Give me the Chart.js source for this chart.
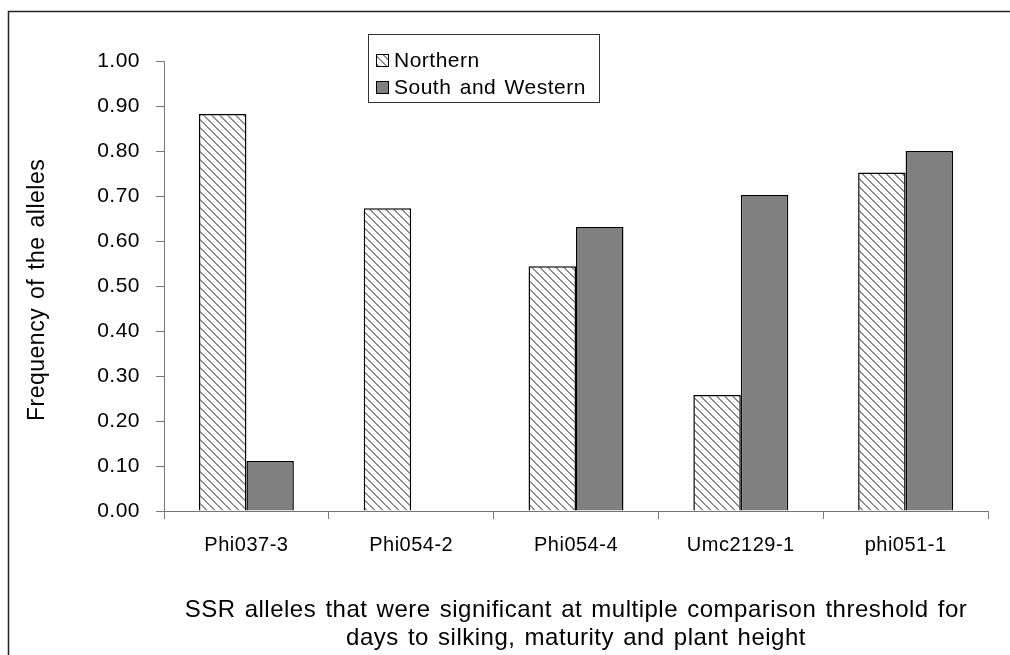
<!DOCTYPE html>
<html>
<head>
<meta charset="utf-8">
<script src="https://cdn.jsdelivr.net/npm/chart.js@4/dist/chart.umd.min.js"></script>
<style>
  html, body { margin: 0; padding: 0; background: #fff; }
  #wrap { width: 1010px; height: 655px; position: relative; }
</style>
</head>
<body>
<div id="wrap"><canvas id="alleleChart" width="1010" height="655"></canvas></div>
<script>
// data
const alleles = ['Phi037-3', 'Phi054-2', 'Phi054-4', 'Umc2129-1', 'phi051-1'];
const northern = [0.882, 0.673, 0.544, 0.258, 0.752];
const southWestern = [0.111, null, 0.631, 0.702, 0.800];
const yTicks = [0, 0.1, 0.2, 0.3, 0.4, 0.5, 0.6, 0.7, 0.8, 0.9, 1.0];

const FONT = '"Liberation Sans", Arial, sans-serif';

// diagonal hatch like the old excel fill
function makeHatch() {
    const c = document.createElement('canvas');
    c.width = 8; c.height = 8;
    const g = c.getContext('2d');
    g.fillStyle = '#fff';
    g.fillRect(0, 0, 8, 8);
    g.fillStyle = '#8a8a8a';
    for (let y = 0; y < 8; y++) {
        for (let x = 0; x < 8; x++) {
            const d = ((x - y) % 8 + 8) % 8;
            if (d === 0 || d === 1) g.fillRect(x, y, 1, 1);
        }
    }
    return g.createPattern(c, 'repeat');
}

const ctx = document.getElementById('alleleChart').getContext('2d');
const hatch = makeHatch();

// frame, y title (clipped like the original), legend box
const decorations = {
    id: 'decorations',
    beforeDraw(chart) {
        const c = chart.ctx;
        // excel-ish loose text
        c.letterSpacing = '0.5px';
        c.wordSpacing = '2px';
        c.save();
        c.fillStyle = '#fff';
        c.fillRect(0, 0, chart.width, chart.height);
        c.strokeStyle = '#222';
        c.lineWidth = 1.5;
        c.beginPath();
        c.moveTo(8.5, chart.height);
        c.lineTo(8.5, 11.5);
        c.lineTo(chart.width, 11.5);
        c.stroke();
        c.restore();
    },
    afterDraw(chart) {
        const c = chart.ctx;
        // y axis title
        c.save();
        c.beginPath();
        c.rect(0, 152, 120, 300);
        c.clip();
        c.translate(38, 421);
        c.rotate(-Math.PI / 2);
        c.font = '23px ' + FONT;
        c.fillStyle = '#000';
        c.textAlign = 'left';
        c.textBaseline = 'middle';
        c.fillText('Frequency of the alleles', 0, 0);
        c.restore();

        // legend
        const lx = 368, ly = 34, lw = 231, lh = 68;
        c.save();
        c.fillStyle = '#fff';
        c.fillRect(lx, ly, lw, lh);
        c.strokeStyle = '#333';
        c.lineWidth = 1;
        c.strokeRect(lx + 0.5, ly + 0.5, lw, lh);
        c.font = '21px ' + FONT;
        c.textBaseline = 'middle';
        chart.data.datasets.forEach((ds, i) => {
            const cy = ly + 26 + i * 27;
            c.fillStyle = ds.backgroundColor;
            c.fillRect(lx + 8, cy - 6, 12, 12);
            c.strokeStyle = '#000';
            c.strokeRect(lx + 8.5, cy - 5.5, 12, 12);
            c.fillStyle = '#000';
            c.fillText(ds.label, lx + 26, cy + 1);
        });
        c.restore();
    }
};

new Chart(ctx, {
    type: 'bar',
    data: {
        labels: alleles,
        datasets: [{
            label: 'Northern',
            data: northern,
            backgroundColor: hatch,
            borderColor: '#000',
            borderWidth: 1.5
        }, {
            label: 'South and Western',
            data: southWestern,
            backgroundColor: '#808080',
            borderColor: '#000',
            borderWidth: 1.5
        }]
    },
    options: {
        responsive: false,
        animation: false,
        layout: { padding: { left: 0, top: 61, right: 22, bottom: 0 } },
        plugins: {
            legend: { display: false },
            tooltip: { enabled: false }
        },
        datasets: {
            bar: { categoryPercentage: 0.576, barPercentage: 1.0 }
        },
        scales: {
            x: {
                grid: { display: true, drawOnChartArea: false, offset: true, tickLength: 8, color: '#777' },
                border: { color: '#777', width: 1 },
                ticks: { font: { family: FONT, size: 20 }, color: '#000', padding: 14 },
                title: {
                    display: true,
                    text: ['SSR alleles that were significant at multiple comparison threshold for',
                           'days to silking, maturity and plant height'],
                    font: { family: FONT, size: 24, lineHeight: 1.17 },
                    color: '#000',
                    padding: { top: 8, bottom: 3 }
                },
                afterFit(s) { s.height = 144; }
            },
            y: {
                min: 0,
                max: 1,
                afterBuildTicks(s) { s.ticks = yTicks.map(v => ({ value: v })); },
                grid: { display: true, drawOnChartArea: false, tickLength: 8, color: '#777' },
                border: { color: '#777', width: 1 },
                ticks: {
                    font: { family: FONT, size: 21 },
                    color: '#000',
                    padding: 16,
                    callback: v => v.toFixed(2)
                },
                afterFit(s) { s.width = 164; }
            }
        }
    },
    plugins: [decorations]
});
</script>
</body>
</html>
